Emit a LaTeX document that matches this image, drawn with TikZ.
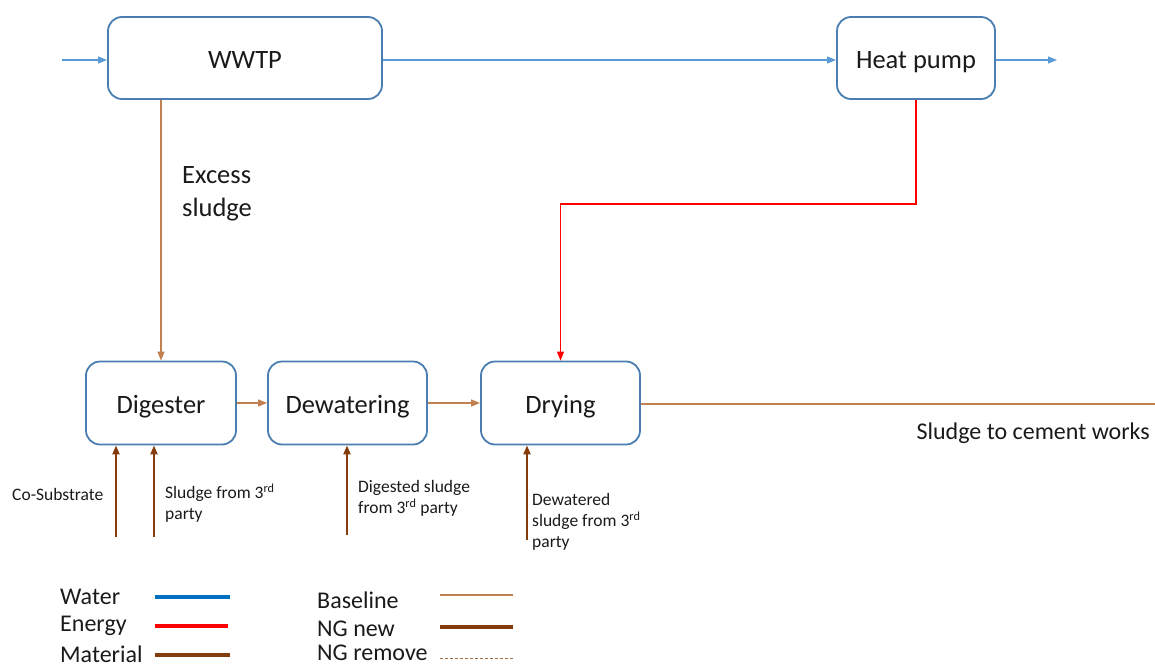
\documentclass[tikz,border=0pt]{standalone}
\usepackage{fontspec}
\setmainfont{Carlito}
\usetikzlibrary{arrows.meta}
\definecolor{boxline}{HTML}{4A7EB0}
\definecolor{waterc}{HTML}{5B9BD5}
\definecolor{waterleg}{HTML}{0070C0}
\definecolor{energyc}{HTML}{FF0000}
\definecolor{matc}{HTML}{843C0C}
\definecolor{basec}{HTML}{C0804F}
\definecolor{txt}{HTML}{1A1A1A}
\tikzset{
  unit/.style={draw=boxline, line width=1.8pt, rounded corners=14pt, fill=white,
    text=txt, font=\fontsize{26.5}{30}\selectfont, inner sep=0pt,
    text height=21pt, text depth=0pt},
  tip/.style={-{Triangle[length=9pt,width=7pt]}},
  water/.style={draw=waterc, line width=1.1pt, tip},
  energy/.style={draw=energyc, line width=1.1pt, tip},
  sludge/.style={draw=basec, line width=1.3pt, tip},
  feed/.style={draw=matc, line width=2pt, tip},
  small/.style={text=txt, font=\fontsize{17.5}{21}\selectfont, align=left, inner sep=0pt},
  mid/.style={text=txt, font=\fontsize{26.5}{33}\selectfont, align=left, inner sep=0pt},
  legtext/.style={text=txt, font=\fontsize{24}{28}\selectfont, anchor=west, inner sep=0pt},
}
\begin{document}
\begin{tikzpicture}[x=1pt, y=-1pt]
\useasboundingbox (0,0) rectangle (1155,666);

% process units
\node[unit, minimum width=274pt, minimum height=82pt] (wwtp) at (245,58) {WWTP};
\node[unit, minimum width=158pt, minimum height=82pt] (hp) at (916,58) {Heat pump};
\node[unit, minimum width=150pt, minimum height=83pt] (dig) at (161,403) {Digester};
\node[unit, minimum width=159pt, minimum height=83pt] (dew) at (347.5,403) {Dewatering};
\node[unit, minimum width=159pt, minimum height=83pt] (dry) at (560.5,403) {Drying};

% free ends of connectors
\coordinate (win) at (62,60);
\coordinate (wout) at (1057,60);
\coordinate (eturn) at (916,204);
\coordinate (cement) at (1155,404);
\coordinate (f1) at (116,537);
\coordinate (f2) at (154,537);
\coordinate (f3) at (347,535);
\coordinate (f4) at (527,540);

% water line
\draw[water] (win) -- (win -| wwtp.west);
\draw[water] (wwtp.east |- win) -- (hp.west |- win);
\draw[water] (hp.east |- win) -- (wout);

% energy from heat pump to drying
\draw[energy] (hp.south) -- (eturn) -| (dry.north);

% sludge train
\draw[sludge] (wwtp.south -| dig.north) -- (dig.north);
\draw[sludge] (dig.east) -- (dew.west);
\draw[sludge] (dew.east) -- (dry.west);
\draw[draw=basec, line width=1.3pt] (dry.east |- cement) -- (cement);

% third-party feeds
\draw[feed] (f1) -- (f1 |- dig.south);
\draw[feed] (f2) -- (f2 |- dig.south);
\draw[feed] (f3) -- (f3 |- dew.south);
\draw[feed] (f4) -- (f4 |- dry.south);

% labels
\node[mid, anchor=north west] (lexcess) at (182,166) {Excess\\sludge};
\node[text=txt, font=\fontsize{24}{28}\selectfont, anchor=east, inner sep=0pt] (lcement) at (1150,433) {Sludge to cement works};
\node[small, anchor=west] (lco) at (12,494) {Co-Substrate};
\node[small, anchor=north west] (lsl) at (165,484) {Sludge from 3\textsuperscript{rd}\\party};
\node[small, anchor=north west] (ldig) at (358,480) {Digested sludge\\from 3\textsuperscript{rd} party};
\node[small, anchor=north west] (ldew) at (532,493) {Dewatered\\sludge from 3\textsuperscript{rd}\\party};

% legend
\node[legtext] (kw) at (60,597) {Water};
\node[legtext] (ke) at (60,626) {Energy};
\node[legtext] (km) at (60,654) {Material};
\node[legtext] (kb) at (317,600) {Baseline};
\node[legtext] (kn) at (317,629) {NG new};
\node[legtext] (kr) at (317,653) {NG remove};
\coordinate (kw1) at (155,597); \coordinate (kw2) at (230,597);
\coordinate (ke1) at (155,626); \coordinate (ke2) at (228,626);
\coordinate (km1) at (155,655); \coordinate (km2) at (230,655);
\coordinate (kb1) at (440,595); \coordinate (kb2) at (513,595);
\coordinate (kn1) at (440,627); \coordinate (kn2) at (513,627);
\coordinate (kr1) at (440,658); \coordinate (kr2) at (513,658);
\draw[waterleg, line width=3.5pt] (kw1) -- (kw2);
\draw[energyc, line width=3.5pt] (ke1) -- (ke2);
\draw[matc, line width=3.5pt] (km1) -- (km2);
\draw[basec, line width=1.3pt] (kb1) -- (kb2);
\draw[matc, line width=3.5pt] (kn1) -- (kn2);
\draw[basec!85!black, line width=1pt, dash pattern=on 3pt off 2pt] (kr1) -- (kr2);
\end{tikzpicture}
\end{document}
